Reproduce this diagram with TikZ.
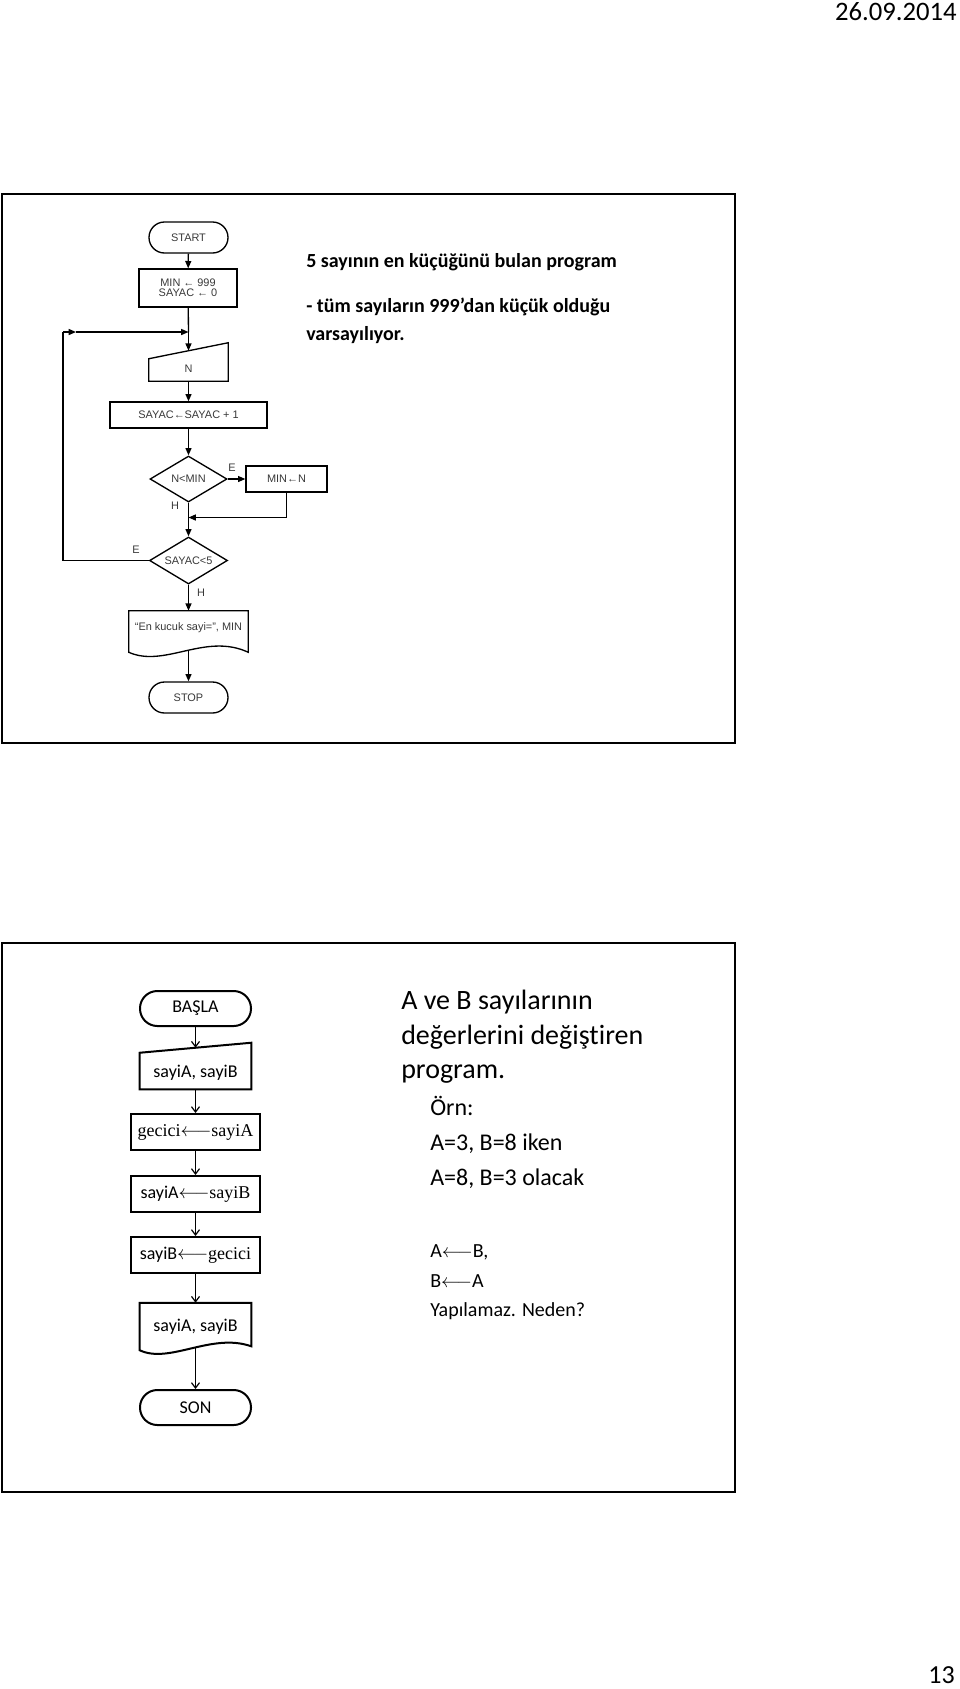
\documentclass[tikz,border=0pt]{standalone}
\usepackage{fontspec}
\setmainfont{Carlito}[Ligatures={TeX,NoCommon}]
\newfontfamily\arialf{Liberation Sans}
\newfontfamily\timesf{Liberation Serif}
\usetikzlibrary{shapes.geometric,arrows.meta,calc}
\begin{document}
\begin{tikzpicture}[x=0.75pt,y=-0.75pt,
  frm/.style={draw=black,line width=2pt},
  fa/.style={font=\arialf\fontsize{8.2}{7.6}\selectfont,text=black!78},
  fbox/.style={fa,draw=black,line width=1pt,inner sep=0pt},
  fterm/.style={fbox,rounded corners=11.6pt},
  fdia/.style={fbox,diamond,aspect=1.5},
  fln/.style={draw=black,line width=1pt},
  farr/.style={fln,-{Triangle[length=5.5pt,width=4.5pt]}},
  lbl/.style={fa,inner sep=0pt},
  bt/.style={font=\fontsize{13.5}{16}\selectfont,inner sep=0pt},
  bbox/.style={bt,draw=black,line width=1.5pt},
  bterm/.style={bbox,rounded corners=13pt},
  bln/.style={draw=black,line width=0.9pt},
  barr/.style={bln,-{Straight Barb[length=4pt,width=6pt]}},
  hd/.style={anchor=base west,inner sep=0pt,font=\bfseries\fontsize{15}{15}\selectfont},
  tA/.style={anchor=base west,inner sep=0pt,font=\fontsize{21}{21}\selectfont},
  tB/.style={anchor=base west,inner sep=0pt,font=\fontsize{18}{18}\selectfont},
  tC/.style={anchor=base west,inner sep=0pt,font=\fontsize{15}{15}\selectfont}
]
\useasboundingbox (0,0) rectangle (960,1689);

% page header / footer
\node[anchor=base east,inner sep=0pt,font=\fontsize{20}{20}\selectfont] (date) at (957,20) {26.09.2014};
\node[anchor=base east,inner sep=0pt,font=\fontsize{19.5}{19.5}\selectfont] (pg) at (955,1683) {13};

% frames
\draw[frm] (2,194) rectangle (735,743);
\draw[frm] (2,943) rectangle (735,1492);

% ---------- top flowchart ----------
\node[fterm,minimum width=59.25pt,minimum height=23.25pt] (start) at (188.5,237.5) {START};
\node[fbox,minimum width=73.5pt,minimum height=28.5pt,align=center] (init) at (188,288) {MIN ← 999\\SAYAC ← 0};
\coordinate (loopin) at (188.5,332);
\coordinate (loopL) at (63,332);
\coordinate (loopmid) at (76,332);
\node[inner sep=0pt,minimum width=59.25pt,minimum height=28.5pt] (nin) at (188.5,362) {};
\draw[fln] (nin.south west) -- (nin.south east) -- (nin.north east) -- ([yshift=-12pt]nin.north west) -- cycle;
\coordinate (nintop) at ($(nin.north)+(0,8)$);
\node[lbl] (nint) at (188.5,369) {N};
\node[fbox,minimum width=117.75pt,minimum height=19.5pt] (inc) at (188.5,415) {SAYAC←SAYAC + 1};
\node[fdia,minimum width=57.75pt,minimum height=34.5pt] (d1) at (188.5,479) {N<MIN};
\node[fbox,minimum width=60.75pt,minimum height=19.5pt] (minb) at (286.5,479) {MIN←N};
\coordinate (mjoin) at (188.5,517.5);
\coordinate (mcorner) at (286.5,517.5);
\node[fdia,minimum width=58.5pt,minimum height=35.25pt] (d2) at (188.5,560.5) {SAYAC<5};
\node[inner sep=0pt,minimum width=89.25pt,minimum height=30.75pt] (out1) at (188.5,631.5) {};
\draw[fln] (out1.north west) -- (out1.south west) .. controls +(36,16) and +(-43,-20) .. (out1.south east) -- (out1.north east) -- cycle;
\node[lbl] (out1t) at (188.5,628) {“En kucuk sayi=”, MIN};
\coordinate (out1b) at (188.5,650);
\node[fterm,minimum width=59.25pt,minimum height=23.25pt] (stop) at (188.5,697.5) {STOP};
\coordinate (d2left) at (63,560.5);

\node[lbl] (lE1) at (232,468) {E};
\node[lbl] (lH1) at (175,506) {H};
\node[lbl] (lE2) at (136,550) {E};
\node[lbl] (lH2) at (201,593) {H};

\draw[farr] (start) -- (init);
\draw[fln] (init) -- (loopin);
\draw[farr] (loopin) -- (nintop);
\draw[farr] (nin) -- (inc);
\draw[farr] (inc) -- (d1);
\draw[farr] (d1) -- (minb);
\draw[fln] (minb.south) -- (mcorner);
\draw[farr] (mcorner) -- (mjoin);
\draw[farr] (d1.south) -- (d2.north);
\draw[farr] (d2) -- (out1);
\draw[farr] (out1b) -- (stop);
\draw[fln] (d2.west) -- (d2left) -- (loopL);
\draw[farr] (loopL) -- (loopmid);
\draw[farr] (loopmid) -- (loopin);

% top texts
\node[hd] (h1) at (306,267) {5 sayının en küçüğünü bulan program};
\node[hd] (h2) at (306,312) {- tüm sayıların 999’dan küçük olduğu};
\node[hd] (h3) at (306,340) {varsayılıyor.};

% ---------- bottom flowchart ----------
\node[bterm,minimum width=83.25pt,minimum height=26.25pt] (basla) at (195.5,1008.5) {BAŞLA};
\node[inner sep=0pt,minimum width=83.25pt,minimum height=34.5pt] (in2) at (195.5,1066) {};
\draw[draw=black,line width=1.5pt] (in2.south west) -- (in2.south east) -- (in2.north east) -- ([yshift=-7.5pt]in2.north west) -- cycle;
\coordinate (in2top) at ($(in2.north)+(0,5)$);
\node[bt] (in2t) at (195.5,1073) {sayiA, sayiB};
\node[bbox,minimum width=96.75pt,minimum height=27pt] (b1) at (195.5,1132) {{\timesf gecici}$\longleftarrow${\timesf sayiA}};
\node[bbox,minimum width=96.75pt,minimum height=27pt] (b2) at (195.5,1194) {sayiA$\longleftarrow${\timesf sayiB}};
\node[bbox,minimum width=96.75pt,minimum height=27pt] (b3) at (195.5,1255) {sayiB$\longleftarrow${\timesf gecici}};
\node[inner sep=0pt,minimum width=83.25pt,minimum height=35.25pt] (out2) at (195.5,1326.5) {};
\draw[draw=black,line width=1.5pt] (out2.north west) -- (out2.south west) .. controls +(30,14) and +(-40,-14) .. ([yshift=3pt]out2.south east) -- (out2.north east) -- cycle;
\node[bt] (out2t) at (195.5,1327) {sayiA, sayiB};
\coordinate (out2b) at (195.5,1347.5);
\node[bterm,minimum width=83.25pt,minimum height=26.25pt] (son) at (195.5,1407.5) {SON};

\draw[barr] (basla) -- (in2top);
\draw[barr] (in2) -- (b1);
\draw[barr] (b1) -- (b2);
\draw[barr] (b2) -- (b3);
\draw[barr] (b3) -- (out2);
\draw[barr] (out2b) -- (son);

% bottom texts
\node[tA] (t1) at (401,1009) {A ve B sayılarının};
\node[tA] (t2) at (401,1044) {değerlerini değiştiren};
\node[tA] (t3) at (401,1078) {program.};
\node[tB] (t4) at (430,1115) {Örn:};
\node[tB] (t5) at (430,1150) {A=3, B=8 iken};
\node[tB] (t6) at (430,1185) {A=8, B=3 olacak};
\node[tC] (t7) at (430,1257) {A$\longleftarrow$B,};
\node[tC] (t8) at (430,1287) {B$\longleftarrow$A};
\node[tC] (t9) at (430,1316) {Yapılamaz. Neden?};
\end{tikzpicture}
\end{document}
